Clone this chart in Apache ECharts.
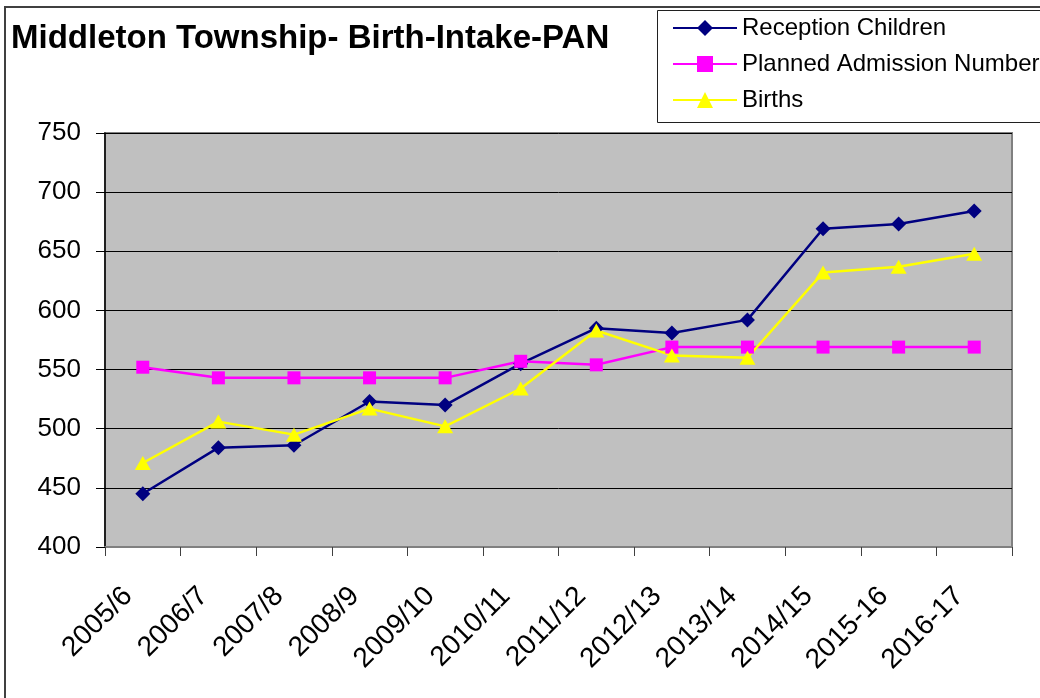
<!DOCTYPE html>
<html>
<head>
<meta charset="utf-8">
<script src="https://cdn.jsdelivr.net/npm/echarts@6/dist/echarts.min.js"></script>
<style>
html,body{margin:0;padding:0;background:#fff;}
#chart{width:1040px;height:698px;}
</style>
</head>
<body>
<div id="chart"></div>
<script>
const categories = ['2005/6','2006/7','2007/8','2008/9','2009/10','2010/11','2011/12','2012/13','2013/14','2014/15','2015-16','2016-17'];
const receptionChildren = [445, 484, 486, 523, 520, 555, 585, 581, 592, 669, 673, 684];
const plannedAdmission = [552, 543, 543, 543, 543, 557, 554, 569, 569, 569, 569, 569];
const births = [471, 506, 495, 517, 502, 534, 583, 562, 560, 632, 637, 648];
const seriesNames = ['Reception Children', 'Planned Admission Number', 'Births'];
const titleText = 'Middleton Township- Birth-Intake-PAN';

const FONT = "'Liberation Sans', Arial, sans-serif";
const chart = echarts.init(document.getElementById('chart'), null, {renderer: 'canvas'});
chart.setOption({
  backgroundColor: '#ffffff',
  animation: false,
  title: {
    text: titleText,
    left: 11, top: 22, padding: 0,
    textStyle: {fontFamily: FONT, fontSize: 33, fontWeight: 'bold', color: '#000'}
  },
  legend: {
    orient: 'vertical',
    left: 672, top: 16, padding: 0,
    itemWidth: 64, itemHeight: 20, itemGap: 12,
    data: seriesNames,
    textStyle: {fontFamily: FONT, fontSize: 24, color: '#000', lineHeight: 24}
  },
  graphic: [
    {type: 'rect', z: 100, silent: true, shape: {x: 5, y: 7, width: 1100, height: 800},
     style: {fill: 'none', stroke: '#404040', lineWidth: 2}},
    {type: 'rect', z: 100, silent: true, shape: {x: 657.5, y: 10.5, width: 450, height: 112},
     style: {fill: 'none', stroke: '#202020', lineWidth: 1}}
  ],
  grid: {
    left: 105, right: 28, top: 133, bottom: 151,
    show: true, backgroundColor: '#C0C0C0', borderColor: '#808080', borderWidth: 2
  },
  xAxis: {
    type: 'category',
    data: categories,
    boundaryGap: true,
    axisLine: {show: true, lineStyle: {color: '#808080', width: 2}},
    axisTick: {show: true, length: 9, lineStyle: {color: '#404040', width: 1}},
    axisLabel: {
      rotate: 45, margin: 30, padding: [0, 21, 0, 0],
      fontFamily: FONT, fontSize: 28, color: '#000', interval: 0
    },
    splitLine: {show: false}
  },
  yAxis: {
    type: 'value',
    min: 400, max: 750, interval: 50,
    axisLine: {show: true, lineStyle: {color: '#000', width: 1.5}},
    axisTick: {show: true, length: 9, lineStyle: {color: '#000', width: 1}},
    axisLabel: {margin: 24, fontFamily: FONT, fontSize: 26, color: '#000'},
    splitLine: {show: true, lineStyle: {color: '#000', width: 1}}
  },
  series: [
    {
      name: seriesNames[0], type: 'line', data: receptionChildren,
      symbol: 'diamond', symbolSize: [15, 15],
      lineStyle: {color: '#000080', width: 2.5}, itemStyle: {color: '#000080'}
    },
    {
      name: seriesNames[1], type: 'line', data: plannedAdmission,
      symbol: 'rect', symbolSize: [13, 13],
      lineStyle: {color: '#FF00FF', width: 2.5}, itemStyle: {color: '#FF00FF'}
    },
    {
      name: seriesNames[2], type: 'line', data: births,
      symbol: 'triangle', symbolSize: [16, 14],
      lineStyle: {color: '#FFFF00', width: 2.5}, itemStyle: {color: '#FFFF00'}
    }
  ]
});
</script>
</body>
</html>
